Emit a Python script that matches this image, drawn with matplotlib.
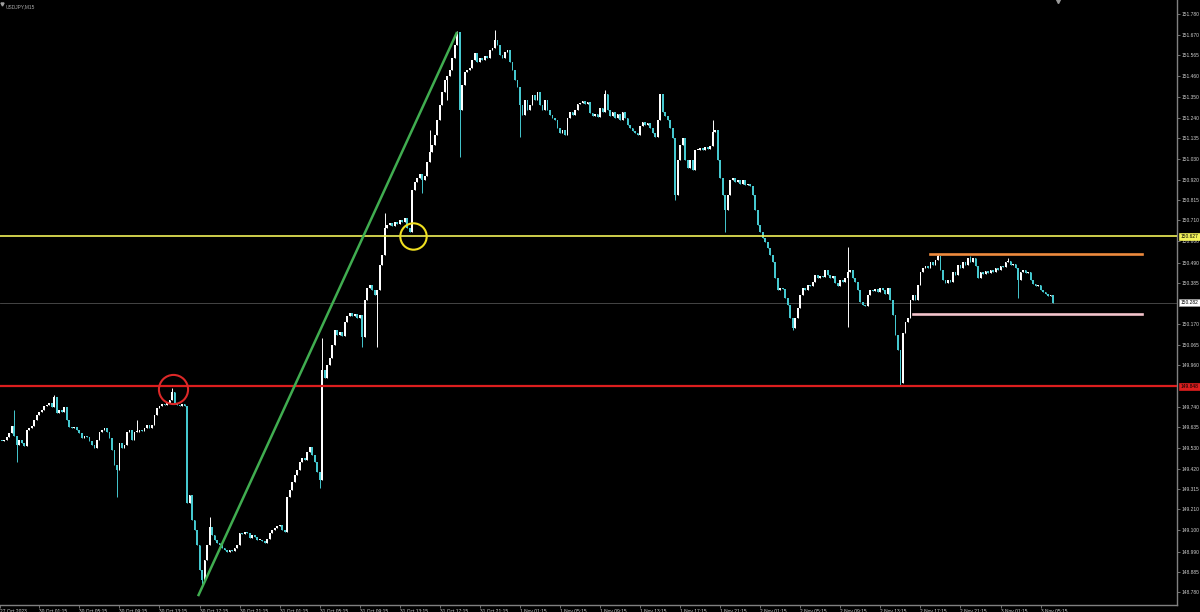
import matplotlib
matplotlib.use('Agg')
import matplotlib.pyplot as plt
import matplotlib.transforms as mtransforms
import numpy as np
import pandas as pd

# USDJPY M15 closes, one per bar (27 Oct 21:30 .. 3 Nov 06:30)
closes = [
    149.564, 149.569, 149.585, 149.606, 149.642, 149.590, 149.543, 149.569, 149.554, 149.538,
    149.621, 149.632, 149.642, 149.673, 149.699, 149.715, 149.725, 149.746, 149.751, 149.761,
    149.741, 149.793, 149.710, 149.725, 149.715, 149.741, 149.673, 149.637, 149.632, 149.637,
    149.621, 149.606, 149.580, 149.590, 149.585, 149.564, 149.543, 149.528, 149.569, 149.611,
    149.621, 149.632, 149.611, 149.580, 149.517, 149.440, 149.414, 149.554, 149.528, 149.543,
    149.611, 149.621, 149.569, 149.611, 149.611, 149.621, 149.616, 149.632, 149.647, 149.632,
    149.647, 149.699, 149.735, 149.746, 149.756, 149.751, 149.761, 149.777, 149.819, 149.761,
    149.751, 149.746, 149.756, 149.746, 149.242, 149.284, 149.154, 149.102, 149.025, 148.895,
    148.843, 148.947, 149.025, 149.118, 149.076, 149.050, 149.035, 149.025, 149.009, 148.999,
    148.988, 148.999, 148.993, 149.009, 149.025, 149.087, 149.082, 149.092, 149.087, 149.061,
    149.076, 149.066, 149.050, 149.050, 149.045, 149.035, 149.056, 149.087, 149.102, 149.113,
    149.123, 149.128, 149.102, 149.092, 149.273, 149.310, 149.351, 149.388, 149.414, 149.455,
    149.476, 149.466, 149.507, 149.533, 149.492, 149.455, 149.403, 149.362, 149.933, 149.891,
    149.959, 149.995, 150.062, 150.140, 150.114, 150.130, 150.109, 150.182, 150.213, 150.228,
    150.213, 150.223, 150.202, 150.218, 150.104, 150.296, 150.358, 150.374, 150.348, 150.322,
    150.348, 150.478, 150.530, 150.670, 150.685, 150.696, 150.680, 150.701, 150.691, 150.711,
    150.701, 150.722, 150.670, 150.649, 150.867, 150.908, 150.929, 150.950, 150.919, 150.940,
    151.012, 151.064, 151.100, 151.152, 151.230, 151.308, 151.375, 151.438, 151.459, 151.490,
    151.552, 151.619, 151.687, 151.282, 151.412, 151.479, 151.490, 151.500, 151.542, 151.578,
    151.531, 151.552, 151.542, 151.562, 151.552, 151.593, 151.604, 151.645, 151.619, 151.568,
    151.552, 151.583, 151.593, 151.531, 151.490, 151.438, 151.402, 151.308, 151.256, 151.334,
    151.282, 151.308, 151.360, 151.334, 151.375, 151.308, 151.282, 151.334, 151.282, 151.256,
    151.241, 151.230, 151.189, 151.163, 151.178, 151.152, 151.241, 151.272, 151.256, 151.282,
    151.313, 151.318, 151.329, 151.313, 151.324, 151.267, 151.251, 151.261, 151.246, 151.292,
    151.272, 151.365, 151.282, 151.251, 151.272, 151.241, 151.261, 151.230, 151.272, 151.241,
    151.204, 151.189, 151.173, 151.163, 151.152, 151.199, 151.220, 151.204, 151.215, 151.189,
    151.163, 151.142, 151.230, 151.365, 151.272, 151.251, 151.230, 151.189, 151.137, 150.841,
    151.023, 151.100, 151.137, 151.023, 150.981, 151.023, 150.971, 151.075, 151.075, 151.085,
    151.075, 151.090, 151.080, 151.095, 151.168, 151.178, 151.023, 150.929, 150.841, 150.763,
    150.841, 150.919, 150.929, 150.908, 150.919, 150.898, 150.919, 150.893, 150.898, 150.888,
    150.841, 150.763, 150.685, 150.649, 150.618, 150.597, 150.566, 150.530, 150.493, 150.410,
    150.348, 150.358, 150.353, 150.306, 150.270, 150.203, 150.151, 150.203, 150.254, 150.322,
    150.358, 150.348, 150.374, 150.369, 150.389, 150.426, 150.410, 150.421, 150.415, 150.452,
    150.426, 150.410, 150.421, 150.384, 150.369, 150.400, 150.389, 150.410, 150.441, 150.452,
    150.410, 150.389, 150.348, 150.286, 150.270, 150.265, 150.322, 150.348, 150.343, 150.353,
    150.337, 150.358, 150.348, 150.327, 150.358, 150.296, 150.218, 150.114, 150.036, 149.865,
    150.125, 150.182, 150.203, 150.296, 150.322, 150.296, 150.374, 150.441, 150.462, 150.472,
    150.462, 150.493, 150.478, 150.504, 150.524, 150.452, 150.400, 150.384, 150.400, 150.389,
    150.441, 150.426, 150.478, 150.462, 150.493, 150.478, 150.514, 150.493, 150.514, 150.472,
    150.410, 150.441, 150.431, 150.446, 150.436, 150.452, 150.441, 150.462, 150.452, 150.472,
    150.467, 150.493, 150.498, 150.478, 150.483, 150.462, 150.400, 150.441, 150.452, 150.436,
    150.441, 150.400, 150.379, 150.369, 150.374, 150.348, 150.337, 150.327, 150.317, 150.322, 150.282,
]
first_open = 149.566

# notable wicks (bar index -> price)
wick_highs = {5: 149.725, 21: 149.803, 54: 149.673, 68: 149.839, 83: 149.170, 128: 150.099,
              153: 150.748, 171: 151.178, 182: 151.692, 197: 151.697, 241: 151.386,
              284: 151.230, 338: 150.571, 374: 150.535, 387: 150.524, 402: 150.514}
wick_lows = {6: 149.455, 46: 149.274, 80: 148.822, 127: 149.320, 144: 150.052, 150: 150.052,
             168: 150.851, 178: 151.334, 183: 151.038, 207: 151.142, 269: 150.815,
             289: 150.649, 316: 150.140, 338: 150.156, 359: 149.850, 406: 150.306}

yellow_level = 150.627
red_level = 149.848
bid_price = 150.282
orange_level = 150.535
pink_level = 150.223
orange_start, pink_start, zone_end = 371, 364, 455.5
trend_x = [78.4, 181.9]
trend_y = [148.759, 151.687]
red_circle = (68.3, 149.832)
yellow_circle = (164.2, 150.628)

price_ticks = [151.780, 151.670, 151.565, 151.460, 151.350, 151.240, 151.135, 151.030,
               150.920, 150.815, 150.710, 150.600, 150.490, 150.385, 150.170, 150.065,
               149.960, 149.740, 149.635, 149.530, 149.420, 149.315, 149.210, 149.100,
               148.990, 148.885, 148.780]

bull = 'white'
bear = '#45c8cf'
grey = '#808080'
label_col = '#d0d0d0'
fs = 3.5

c = np.array(closes)
n = len(c)
x = np.arange(n)
o = np.r_[first_open, c[:-1]]
hi = np.maximum(o, c)
lo = np.minimum(o, c)
for k, v in wick_highs.items():
    hi[k] = v
for k, v in wick_lows.items():
    lo[k] = v

fri = pd.date_range('2023-10-27 21:30', periods=10, freq='15min')
rest = pd.date_range('2023-10-30 00:00', periods=n - 10, freq='15min')
times = fri.append(rest)

fig = plt.figure(figsize=(12, 6.12), dpi=100, facecolor='black')
ax = fig.add_axes([0, 7 / 612, 1177 / 1200, 605 / 612], facecolor='black')

cols = np.where(c >= o, bull, bear)
ax.vlines(x, lo, hi, colors=cols, lw=0.7, zorder=3)
body = np.maximum(np.abs(c - o), 0.005)
ax.bar(x, body, bottom=np.minimum(o, c), width=0.72, color=cols, linewidth=0, zorder=4)

ax.axhline(bid_price, color='#505050', lw=0.6, zorder=1)
ax.axhline(yellow_level, color='#f2f25a', lw=1.2, zorder=5)
ax.axhline(red_level, color='#dc1e1e', lw=1.6, zorder=5)
ax.plot([orange_start, zone_end], [orange_level, orange_level], color='#ee8a3e', lw=1.9, zorder=5)
ax.plot([pink_start, zone_end], [pink_level, pink_level], color='#f4c4cc', lw=1.9, zorder=5)
ax.plot(trend_x, trend_y, color='#40ad50', lw=1.8, zorder=6, solid_capstyle='butt')
ax.plot(*red_circle, 'o', ms=21, mfc='none', mec='#dc2828', mew=1.5, zorder=7)
ax.plot(*yellow_circle, 'o', ms=19, mfc='none', mec='#f0e020', mew=1.5, zorder=7)

ax.set_xlim(-0.72, 469.5)
ax.set_ylim(148.713, 151.853)

for s in ['top', 'left']:
    ax.spines[s].set_visible(False)
for s in ['right', 'bottom']:
    ax.spines[s].set_color(grey)
    ax.spines[s].set_linewidth(1.0)

ax.yaxis.tick_right()
ax.set_yticks(price_ticks)
ax.set_yticklabels(['%.3f' % p for p in price_ticks])
ax.tick_params(axis='y', direction='out', length=2, width=0.6, color=grey,
               labelsize=fs, labelcolor=label_col, pad=1.2)

tick_idx = [i for i, t in enumerate(times) if t.minute == 15 and t.hour % 4 == 1 and t.day != 27]
xt = [-0.72] + tick_idx
xl = ['27 Oct 2023'] + ['%d %s %s' % (times[i].day, times[i].strftime('%b'), times[i].strftime('%H:%M'))
                        for i in tick_idx]
ax.set_xticks(xt)
ax.set_xticklabels(xl, ha='left')
ax.tick_params(axis='x', direction='out', length=2, width=0.6, color=grey,
               labelsize=fs, labelcolor=label_col, pad=0.8)
for lab in ax.get_xticklabels() + ax.get_yticklabels():
    lab.set_fontfamily('Liberation Sans')

# price boxes on the right scale
tr = mtransforms.blended_transform_factory(ax.transAxes, ax.transData)
for val, fc, ec in [(bid_price, 'white', '#a0a0a0'), (yellow_level, '#f2f25a', '#f2f25a'),
                    (red_level, '#dc1e1e', '#dc1e1e')]:
    ax.text(1.003, val, '%.3f' % val, transform=tr, ha='left', va='center', fontsize=fs,
            family='Liberation Sans', color='black', clip_on=False, zorder=10,
            bbox=dict(boxstyle='square,pad=0.25', fc=fc, ec=ec, lw=0.5))

# title and shift marker
ax.text(0.0045, 0.993, 'USDJPY,M15', transform=ax.transAxes, ha='left', va='top',
        fontsize=fs, family='Liberation Sans', color='#a8a8a8')
ax.plot([0.0018], [0.9935], marker='v', ms=2.2, color='#a0a0a0', transform=ax.transAxes,
        clip_on=False)
ax.plot([422], [151.850], marker='v', ms=3, color='#9a9a9a', clip_on=False, zorder=8)

fig.savefig('out.png', dpi=100, facecolor='black')
